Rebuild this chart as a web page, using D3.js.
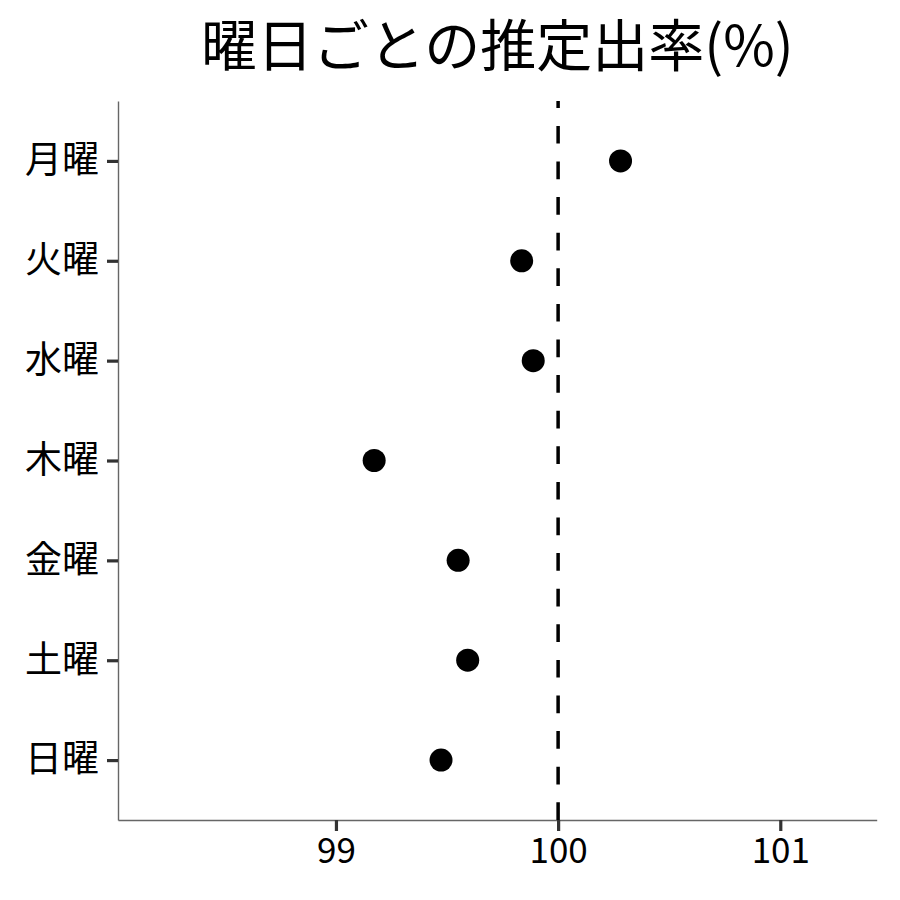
<!DOCTYPE html>
<html>
<head>
<meta charset="utf-8">
<script src="https://cdn.jsdelivr.net/npm/d3@7"></script>
<style>
  body { margin: 0; background: #fff; }
  text { font-family: "Noto Sans CJK JP", "Noto Sans", sans-serif; }
</style>
</head>
<body>
<svg id="chart"></svg>
<script>
const width = 900;
const height = 900;
const margin = { top: 101, right: 23.3, bottom: 80, left: 118 };

const days = ['月曜', '火曜', '水曜', '木曜', '金曜', '土曜', '日曜'];
const rates = [100.281, 99.836, 99.888, 99.172, 99.550, 99.593, 99.473];
const xTicks = [99, 100, 101];
const refValue = 100;
const title = '曜日ごとの推定出率(%)';

const data = days.map((d, i) => ({ day: d, rate: rates[i] }));

const svg = d3.select('#chart')
    .attr('width', width)
    .attr('height', height);

const xScale = d3.scaleLinear()
    .domain([98.019, 101.434])
    .range([margin.left, width - margin.right]);

const yScale = d3.scalePoint()
    .domain(days)
    .range([margin.top, height - margin.bottom])
    .padding(0.6);

// x axis
const xAxis = svg.append('g')
    .attr('transform', `translate(0, ${height - margin.bottom})`)
    .call(d3.axisBottom(xScale).tickValues(xTicks).tickFormat(d3.format('d'))
        .tickSize(11).tickPadding(7).tickSizeOuter(0));
xAxis.select('.domain').attr('stroke', '#666').attr('stroke-width', 1.4);
xAxis.selectAll('.tick line').attr('stroke', '#333').attr('stroke-width', 3.2);
xAxis.selectAll('.tick text')
    .attr('fill', '#000')
    .style('font-size', '35px');

// y axis
const yAxis = svg.append('g')
    .attr('transform', `translate(${margin.left}, 0)`)
    .call(d3.axisLeft(yScale).tickSize(11).tickPadding(8).tickSizeOuter(0));
yAxis.select('.domain').attr('stroke', '#666').attr('stroke-width', 1.4);
yAxis.selectAll('.tick line').attr('stroke', '#333').attr('stroke-width', 3.2);
yAxis.selectAll('.tick text')
    .attr('fill', '#000')
    .style('font-size', '37px');

// reference line at 100, drawn from the bottom up
svg.append('line')
    .attr('x1', xScale(refValue))
    .attr('x2', xScale(refValue))
    .attr('y1', height - margin.bottom)
    .attr('y2', margin.top)
    .attr('stroke', '#000')
    .attr('stroke-width', 3.5)
    .attr('stroke-dasharray', '17.7,17.9');

// points
svg.selectAll('.dot')
    .data(data)
    .enter()
    .append('circle')
    .attr('class', 'dot')
    .attr('cx', d => xScale(d.rate))
    .attr('cy', d => yScale(d.day))
    .attr('r', 11.5)
    .attr('fill', '#000');

// title
svg.append('text')
    .attr('x', (margin.left + width - margin.right) / 2)
    .attr('y', 66)
    .attr('text-anchor', 'middle')
    .style('font-size', '56px')
    .attr('fill', '#000')
    .text(title);
</script>
</body>
</html>
